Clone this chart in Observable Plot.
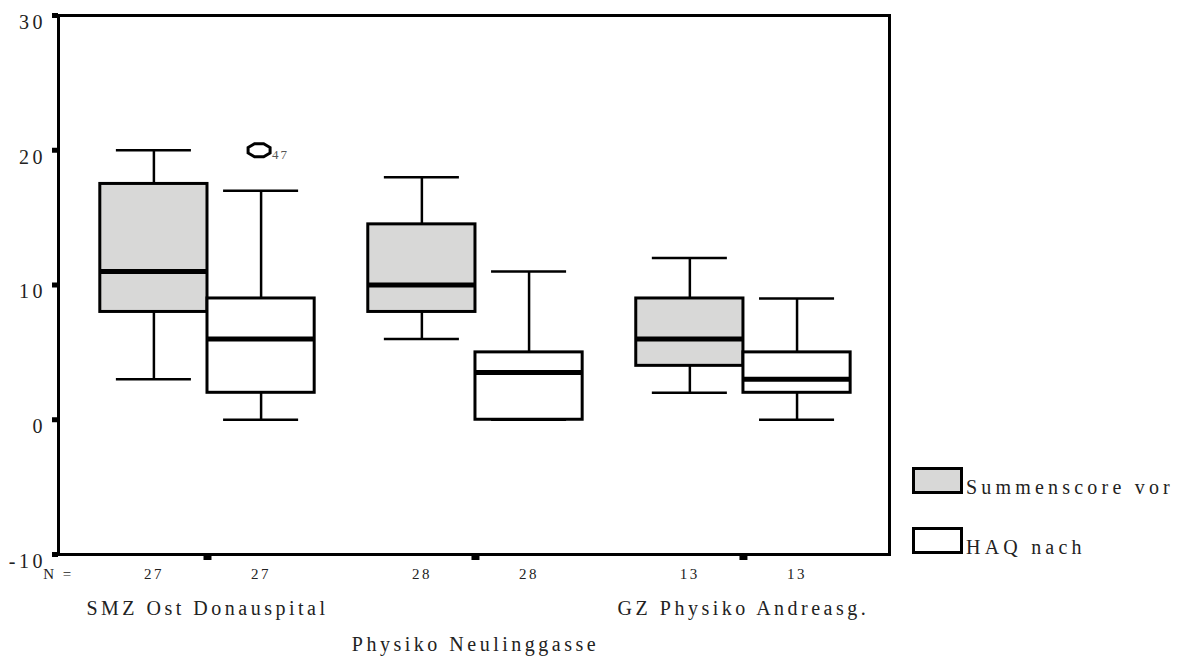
<!DOCTYPE html>
<html>
<head>
<meta charset="utf-8">
<script src="https://cdn.jsdelivr.net/npm/d3@7"></script>
<script src="https://cdn.jsdelivr.net/npm/@observablehq/plot@0.6"></script>
<style>
  html, body { margin: 0; padding: 0; background: white; }
  #wrap { position: relative; width: 1181px; height: 661px; font-family: "Liberation Serif", serif; color: #222; }
  #wrap svg g[font-size="20"] text { letter-spacing: 3.5px; }
  #wrap svg g[font-size="15"] text { letter-spacing: 2.5px; }
  #wrap svg g[font-size="13"] text { letter-spacing: 2px; }
  .lg-box { position: absolute; width: 51px; height: 27px; border: 3px solid black; box-sizing: border-box; }
  .lg-text { position: absolute; font-size: 20px; line-height: 20px; letter-spacing: 4.2px; white-space: nowrap; color: #222; }
</style>
</head>
<body>
<div id="wrap"></div>
<script>
// ---- data ----
const groups = ["SMZ Ost Donauspital", "Physiko Neulinggasse", "GZ Physiko Andreasg."];
const series = ["Summenscore vor", "HAQ nach"];
const seriesFill = ["#d8d8d7", "white"];

const vorMin    = [3, 6, 2];
const vorQ1     = [8, 8, 4];
const vorMedian = [11, 10, 6];
const vorQ3     = [17.5, 14.5, 9];
const vorMax    = [20, 18, 12];
const vorN      = [27, 28, 13];

const nachMin    = [0, 0, 0];
const nachQ1     = [2, 0, 2];
const nachMedian = [6, 3.5, 3];
const nachQ3     = [9, 5, 5];
const nachMax    = [17, 11, 9];
const nachN      = [27, 28, 13];

const outlierGroup  = [0];
const outlierSeries = [1];
const outlierValue  = [20];
const outlierLabel  = ["47"];

const yTicks = [-10, 0, 10, 20, 30];

// ---- build tables ----
const stats = [
  {min: vorMin, q1: vorQ1, median: vorMedian, q3: vorQ3, max: vorMax, n: vorN},
  {min: nachMin, q1: nachQ1, median: nachMedian, q3: nachQ3, max: nachMax, n: nachN}
];
const half = 0.2;      // half box width (x units)
const capHalf = 0.14;  // half whisker cap width
const offsets = [-half, half];

const rows = groups.flatMap((g, i) => series.map((s, j) => ({
  g: i, s: j, x: i + offsets[j],
  min: stats[j].min[i], q1: stats[j].q1[i], median: stats[j].median[i],
  q3: stats[j].q3[i], max: stats[j].max[i], n: stats[j].n[i]
})));
const groupRows = groups.map((name, i) => ({i, name, row: i % 2}));
const outliers = outlierValue.map((v, k) => ({
  x: outlierGroup[k] + offsets[outlierSeries[k]], value: v, label: outlierLabel[k]
}));

// octagonal outlier marker (flat top/bottom/sides)
const octagon = {
  draw(context) {
    const rx = 11.9, ry = 7.1, n = 8;
    for (let k = 0; k < n; k++) {
      const a = (k + 0.5) * 2 * Math.PI / n;
      const px = rx * Math.cos(a), py = ry * Math.sin(a);
      if (k === 0) context.moveTo(px, py); else context.lineTo(px, py);
    }
    context.closePath();
  }
};

const chart = Plot.plot({
  width: 1181,
  height: 661,
  marginLeft: 58,
  marginRight: 292,
  marginTop: 15,
  marginBottom: 107,
  style: {fontFamily: "'Liberation Serif', serif", fontSize: "20px", color: "#222", background: "white"},
  x: {type: "linear", domain: [-0.556, 2.545], axis: null},
  y: {domain: [-10, 30], axis: null},
  marks: [
    Plot.axisY({ticks: yTicks, tickSize: 6, strokeWidth: 5, stroke: "black", tickFormat: () => "", label: null}),
    Plot.axisX({ticks: [0, 1, 2], tickSize: 6, strokeWidth: 8, stroke: "black", tickFormat: () => "", label: null}),
    Plot.text(yTicks, {frameAnchor: "left", y: d => d, text: d => String(d),
      textAnchor: "end", dx: -12.5, dy: 7, fontSize: 20, fill: "#222"}),
    // whiskers
    Plot.ruleX(rows, {x: "x", y1: "min", y2: "q1", stroke: "black", strokeWidth: 2.5}),
    Plot.ruleX(rows, {x: "x", y1: "q3", y2: "max", stroke: "black", strokeWidth: 2.5}),
    Plot.ruleY(rows, {y: "min", x1: d => d.x - capHalf, x2: d => d.x + capHalf, stroke: "black", strokeWidth: 2.5}),
    Plot.ruleY(rows, {y: "max", x1: d => d.x - capHalf, x2: d => d.x + capHalf, stroke: "black", strokeWidth: 2.5}),
    // boxes
    Plot.rect(rows, {x1: d => d.x - half, x2: d => d.x + half, y1: "q1", y2: "q3",
      fill: d => seriesFill[d.s], stroke: "black", strokeWidth: 3}),
    // medians
    Plot.ruleY(rows, {y: "median", x1: d => d.x - half, x2: d => d.x + half, stroke: "black", strokeWidth: 5}),
    // outlier
    Plot.dot(outliers, {x: "x", y: "value", symbol: octagon, dx: -2, stroke: "black", strokeWidth: 3, fill: "none"}),
    Plot.text(outliers, {x: "x", y: "value", text: "label", textAnchor: "start",
      dx: 11, dy: 4.5, fontSize: 13, fill: "#555"}),
    // N row
    Plot.text(["N ="], {frameAnchor: "bottom-left", textAnchor: "middle", text: d => d, dy: 24, dx: 0, fontSize: 15, fill: "#222"}),
    Plot.text(rows, {x: "x", frameAnchor: "bottom", text: d => String(d.n), dy: 24, dx: 0, fontSize: 15, fill: "#222"}),
    // group labels
    Plot.text(groupRows, {filter: d => d.row === 0, x: "i", frameAnchor: "bottom",
      text: "name", dy: 60, dx: 0, fontSize: 20, fill: "#222"}),
    Plot.text(groupRows, {filter: d => d.row === 1, x: "i", frameAnchor: "bottom",
      text: "name", dy: 96, dx: 0, fontSize: 20, fill: "#222"}),
    Plot.frame({stroke: "black", strokeWidth: 3})
  ]
});

const wrap = document.getElementById("wrap");
wrap.appendChild(chart);

// legend
const legendTop = [467, 527];
series.forEach((name, j) => {
  const box = document.createElement("div");
  box.className = "lg-box";
  box.style.left = "912px";
  box.style.top = legendTop[j] + "px";
  box.style.background = seriesFill[j];
  wrap.appendChild(box);
  const t = document.createElement("div");
  t.className = "lg-text";
  t.style.left = "966px";
  t.style.top = (legendTop[j] + 10) + "px";
  t.textContent = name;
  wrap.appendChild(t);
});
</script>
</body>
</html>
